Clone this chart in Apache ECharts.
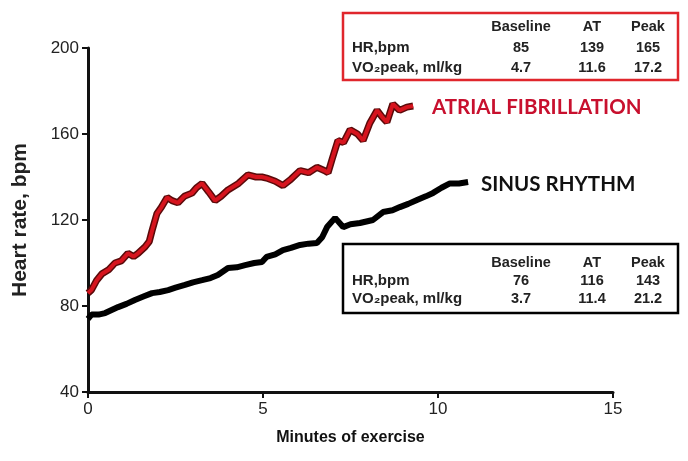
<!DOCTYPE html>
<html><head><meta charset="utf-8">
<script src="https://cdn.jsdelivr.net/npm/echarts@6/dist/echarts.min.js"></script>
<style>html,body{margin:0;padding:0;background:#fff}#c{width:688px;height:461px}</style>
</head><body><div id="c"></div>
<script>
// Data
const afMinutes = [0.0,0.1,0.25,0.4,0.6,0.77,0.95,1.14,1.3,1.43,1.63,1.75,1.83,1.97,2.1,2.26,2.4,2.57,2.75,2.97,3.1,3.26,3.45,3.63,3.8,4.0,4.3,4.57,4.8,4.97,5.1,5.35,5.57,5.8,6.06,6.3,6.54,6.75,6.86,6.97,7.14,7.3,7.49,7.7,7.86,8.05,8.26,8.4,8.54,8.71,8.9,9.11,9.29];
const afHR = [86,87.5,92,95,97,100,101,104.5,103,104.5,107.5,110,115,123,126,130.5,129,128,131,132.5,135,137,133,129,131,134,137,141,140,140,139.5,138,136,139,143,142,144.5,143,142,148,157,156,162,160,157,165,171,168,165.5,174,171,172.5,173];
const srMinutes = [0.0,0.1,0.3,0.49,0.86,1.1,1.34,1.6,1.83,2.05,2.29,2.5,2.77,3.0,3.26,3.5,3.71,4.0,4.25,4.49,4.75,4.97,5.1,5.35,5.57,5.8,6.06,6.3,6.54,6.69,6.83,7.06,7.29,7.5,7.77,8.14,8.43,8.7,8.91,9.15,9.4,9.65,9.86,10.1,10.34,10.6,10.86];
const srHR = [74,76,76,76.7,79.5,81,82.8,84.5,86,86.5,87.4,88.5,89.8,91,92,93,94.4,97.7,98,99,100,100.5,102.8,104,106,107,108.4,109,109.3,112,116.7,121,116.7,118,118.6,120,123.7,124.5,126,127.5,129.3,131,132.6,135,137,137,137.7];
const xTicks = [0,5,10,15];
const yTicks = [40,80,120,160,200];
const tableHeaders = ["Baseline","AT","Peak"];
const rowLabels = ["HR,bpm","VO\u2082peak, ml/kg"];
const afTable = [["85","139","165"],["4.7","11.6","17.2"]];
const srTable = [["76","116","143"],["3.7","11.4","21.2"]];

const af = afMinutes.map((m,i)=>[m,afHR[i]]);
const sr = srMinutes.map((m,i)=>[m,srHR[i]]);

const chart = echarts.init(document.getElementById('c'), null, {renderer:'canvas'});
const F = 'Liberation Sans, Arial, sans-serif';

function table(x, y, w, h, color, values, hy, r1, r2){
  const els = [{type:'rect', shape:{x:x,y:y,width:w,height:h}, style:{fill:'#fff', stroke:color, lineWidth:2.5}}];
  const cx = [x+178, x+249, x+305];
  const ry = [r1, r2];
  tableHeaders.forEach((t,i)=>els.push({type:'text', x:cx[i], y:y+hy, style:{text:t, font:'bold 14.5px '+F, fill:'#222', align:'center', verticalAlign:'middle'}}));
  rowLabels.forEach((t,r)=>{
    els.push({type:'text', x:x+9, y:y+ry[r], style:{text:t, font:'bold 15px '+F, fill:'#222', align:'left', verticalAlign:'middle'}});
    values[r].forEach((v,i)=>els.push({type:'text', x:cx[i], y:y+ry[r], style:{text:v, font:'bold 14.5px '+F, fill:'#222', align:'center', verticalAlign:'middle'}}));
  });
  return els;
}

chart.setOption({
  backgroundColor:'#fff',
  animation:false,
  grid:{left:88, right:75, top:48, bottom:69, containLabel:false},
  xAxis:{type:'value', min:0, max:15, interval:5,
    axisLine:{show:true, onZero:false, lineStyle:{color:'#111', width:3}},
    axisTick:{show:true, length:6, lineStyle:{color:'#111', width:2}},
    splitLine:{show:false},
    axisLabel:{color:'#222', fontSize:17, fontFamily:F, margin:9},
    name:'Minutes of exercise', nameLocation:'middle', nameGap:38,
    nameTextStyle:{fontSize:16, fontWeight:'bold', color:'#111', fontFamily:F}},
  yAxis:{type:'value', min:40, max:200, interval:40,
    axisLine:{show:true, onZero:false, lineStyle:{color:'#111', width:3}},
    axisTick:{show:true, length:6, lineStyle:{color:'#111', width:2}},
    splitLine:{show:false},
    axisLabel:{color:'#222', fontSize:17, fontFamily:F, margin:9},
    name:'Heart rate, bpm', nameLocation:'middle', nameGap:57,
    nameTextStyle:{fontSize:21, fontWeight:'bold', color:'#222', fontFamily:F}},
  series:[
    {type:'line', data:af, showSymbol:false, lineStyle:{color:'#5a0a0a', width:7}, z:2},
    {type:'line', data:af, showSymbol:false, lineStyle:{color:'#d6141e', width:4}, z:3},
    {type:'line', data:sr, showSymbol:false, lineStyle:{color:'#000', width:6}, z:2}
  ],
  graphic:[
    ...table(343, 13, 335, 67, '#e0262c', afTable, 14, 35, 55),
    ...table(343, 244, 335, 69, '#000', srTable, 19, 37, 55),
    {type:'text', x:432, y:107, style:{text:'ATRIAL FIBRILLATION', font:'bold 20.5px Lato, sans-serif', fill:'#c8102e', align:'left', verticalAlign:'middle'}},
    {type:'text', x:481, y:184, style:{text:'SINUS RHYTHM', font:'bold 20.5px Lato, sans-serif', fill:'#111', align:'left', verticalAlign:'middle'}}
  ]
});
</script></body></html>
